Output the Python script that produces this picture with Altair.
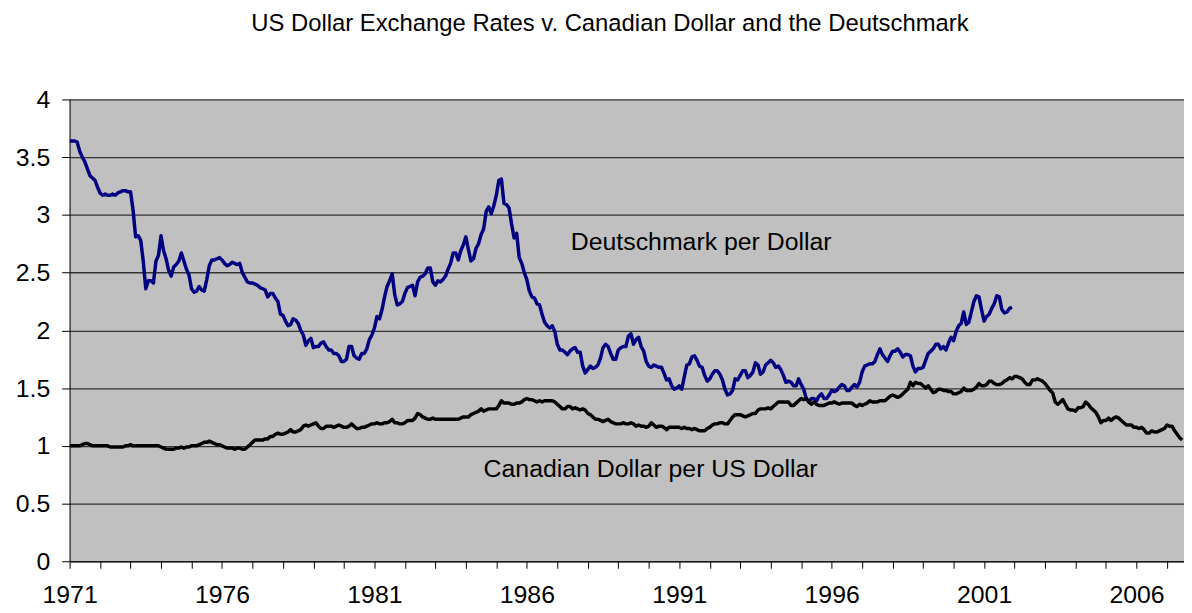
import altair as alt
import pandas as pd

START_YEAR = 1971

# Monthly values, January 1971 onward (one row per year)
dm_values = [
    3.64, 3.64, 3.64, 3.63, 3.55, 3.50, 3.46, 3.40, 3.34, 3.32, 3.30, 3.24,  # 1971
    3.19, 3.17, 3.18, 3.17, 3.17, 3.18, 3.17, 3.19, 3.20, 3.21, 3.21, 3.20,  # 1972
    3.20, 3.04, 2.81, 2.82, 2.78, 2.60, 2.36, 2.43, 2.43, 2.41, 2.60, 2.65,  # 1973
    2.82, 2.69, 2.62, 2.52, 2.47, 2.55, 2.57, 2.60, 2.67, 2.60, 2.53, 2.48,  # 1974
    2.36, 2.33, 2.34, 2.38, 2.35, 2.34, 2.44, 2.56, 2.61, 2.61, 2.62, 2.63,  # 1975
    2.61, 2.58, 2.56, 2.57, 2.59, 2.58, 2.57, 2.58, 2.50, 2.46, 2.42, 2.41,  # 1976
    2.41, 2.40, 2.39, 2.37, 2.36, 2.35, 2.29, 2.32, 2.32, 2.28, 2.25, 2.14,  # 1977
    2.13, 2.08, 2.04, 2.05, 2.10, 2.09, 2.06, 2.00, 1.96, 1.87, 1.91, 1.93,  # 1978
    1.85, 1.86, 1.86, 1.89, 1.90, 1.86, 1.83, 1.83, 1.80, 1.80, 1.78, 1.73,  # 1979
    1.73, 1.75, 1.86, 1.86, 1.78, 1.76, 1.75, 1.80, 1.80, 1.84, 1.92, 1.96,  # 1980
    2.02, 2.12, 2.10, 2.18, 2.29, 2.38, 2.43, 2.49, 2.31, 2.22, 2.23, 2.25,  # 1981
    2.32, 2.37, 2.38, 2.39, 2.30, 2.42, 2.46, 2.47, 2.49, 2.54, 2.54, 2.42,  # 1982
    2.39, 2.43, 2.42, 2.44, 2.47, 2.53, 2.58, 2.67, 2.67, 2.61, 2.69, 2.74,  # 1983
    2.81, 2.70, 2.60, 2.62, 2.71, 2.75, 2.83, 2.88, 3.03, 3.07, 3.01, 3.08,  # 1984
    3.17, 3.30, 3.31, 3.10, 3.09, 3.06, 2.92, 2.80, 2.84, 2.63, 2.58, 2.50,  # 1985
    2.44, 2.34, 2.29, 2.28, 2.23, 2.22, 2.14, 2.07, 2.04, 2.02, 2.04, 1.99,  # 1986
    1.88, 1.83, 1.83, 1.81, 1.79, 1.82, 1.84, 1.85, 1.81, 1.81, 1.69, 1.63,  # 1987
    1.66, 1.69, 1.67, 1.68, 1.70, 1.76, 1.85, 1.88, 1.86, 1.80, 1.75, 1.75,  # 1988
    1.83, 1.85, 1.86, 1.86, 1.95, 1.97, 1.88, 1.92, 1.94, 1.86, 1.82, 1.73,  # 1989
    1.69, 1.68, 1.70, 1.69, 1.68, 1.68, 1.63, 1.57, 1.58, 1.52, 1.49, 1.50,  # 1990
    1.52, 1.49, 1.60, 1.70, 1.71, 1.77, 1.78, 1.74, 1.69, 1.68, 1.61, 1.56,  # 1991
    1.58, 1.62, 1.65, 1.65, 1.62, 1.57, 1.49, 1.44, 1.45, 1.48, 1.58, 1.57,  # 1992
    1.61, 1.65, 1.65, 1.59, 1.61, 1.64, 1.72, 1.70, 1.62, 1.64, 1.70, 1.72,  # 1993
    1.74, 1.72, 1.68, 1.69, 1.66, 1.61, 1.55, 1.56, 1.55, 1.52, 1.52, 1.58,  # 1994
    1.53, 1.49, 1.41, 1.38, 1.41, 1.41, 1.39, 1.43, 1.45, 1.41, 1.41, 1.44,  # 1995
    1.48, 1.47, 1.48, 1.51, 1.53, 1.52, 1.48, 1.48, 1.51, 1.53, 1.51, 1.55,  # 1996
    1.64, 1.69, 1.70, 1.71, 1.71, 1.73, 1.79, 1.84, 1.79, 1.76, 1.73, 1.78,  # 1997
    1.82, 1.82, 1.84, 1.81, 1.77, 1.79, 1.79, 1.78, 1.69, 1.64, 1.67, 1.67,  # 1998
    1.68, 1.74, 1.80, 1.82, 1.84, 1.88, 1.88, 1.84, 1.86, 1.83, 1.89, 1.94,  # 1999
    1.91, 1.99, 2.04, 2.06, 2.16, 2.05, 2.07, 2.16, 2.25, 2.30, 2.29, 2.18,  # 2000
    2.08, 2.12, 2.14, 2.19, 2.23, 2.30, 2.29, 2.18, 2.15, 2.16, 2.19, 2.20,  # 2001
]

cad_values = [
    1.00, 1.00, 1.00, 1.00, 1.00, 1.01, 1.02, 1.02, 1.01, 1.00, 1.00, 1.00,  # 1971
    1.00, 1.00, 1.00, 1.00, 0.99, 0.99, 0.99, 0.99, 0.99, 0.99, 1.00, 1.00,  # 1972
    1.01, 1.00, 1.00, 1.00, 1.00, 1.00, 1.00, 1.00, 1.00, 1.00, 1.00, 1.00,  # 1973
    0.99, 0.98, 0.97, 0.97, 0.97, 0.97, 0.98, 0.98, 0.99, 0.98, 0.99, 0.99,  # 1974
    1.00, 1.00, 1.00, 1.01, 1.02, 1.03, 1.03, 1.04, 1.03, 1.02, 1.01, 1.01,  # 1975
    1.00, 0.99, 0.98, 0.98, 0.98, 0.97, 0.98, 0.98, 0.97, 0.97, 0.99, 1.01,  # 1976
    1.03, 1.05, 1.05, 1.05, 1.05, 1.06, 1.06, 1.08, 1.08, 1.10, 1.11, 1.10,  # 1977
    1.10, 1.11, 1.12, 1.14, 1.12, 1.12, 1.13, 1.14, 1.17, 1.18, 1.17, 1.18,  # 1978
    1.19, 1.20, 1.17, 1.15, 1.15, 1.17, 1.17, 1.17, 1.16, 1.17, 1.18, 1.17,  # 1979
    1.16, 1.16, 1.17, 1.19, 1.17, 1.15, 1.15, 1.16, 1.16, 1.17, 1.18, 1.19,  # 1980
    1.19, 1.20, 1.19, 1.19, 1.20, 1.20, 1.21, 1.23, 1.20, 1.20, 1.19, 1.19,  # 1981
    1.20, 1.22, 1.22, 1.22, 1.24, 1.28, 1.27, 1.25, 1.24, 1.23, 1.23, 1.24,  # 1982
    1.23, 1.23, 1.23, 1.23, 1.23, 1.23, 1.23, 1.23, 1.23, 1.23, 1.24, 1.25,  # 1983
    1.25, 1.25, 1.27, 1.28, 1.29, 1.30, 1.32, 1.30, 1.31, 1.32, 1.32, 1.32,  # 1984
    1.32, 1.35, 1.39, 1.37, 1.37, 1.37, 1.36, 1.36, 1.37, 1.37, 1.38, 1.40,  # 1985
    1.41, 1.40, 1.40, 1.39, 1.38, 1.39, 1.38, 1.39, 1.39, 1.39, 1.39, 1.38,  # 1986
    1.36, 1.34, 1.32, 1.32, 1.34, 1.34, 1.32, 1.33, 1.32, 1.31, 1.32, 1.31,  # 1987
    1.28, 1.27, 1.25, 1.23, 1.23, 1.22, 1.21, 1.22, 1.23, 1.21, 1.20, 1.19,  # 1988
    1.19, 1.19, 1.20, 1.19, 1.19, 1.20, 1.19, 1.17, 1.18, 1.17, 1.17, 1.16,  # 1989
    1.17, 1.20, 1.18, 1.16, 1.17, 1.17, 1.16, 1.14, 1.16, 1.16, 1.16, 1.16,  # 1990
    1.16, 1.15, 1.16, 1.15, 1.15, 1.14, 1.15, 1.14, 1.13, 1.13, 1.13, 1.15,  # 1991
    1.16, 1.18, 1.19, 1.19, 1.20, 1.20, 1.19, 1.19, 1.22, 1.25, 1.27, 1.27,  # 1992
    1.27, 1.26, 1.25, 1.26, 1.27, 1.28, 1.28, 1.31, 1.32, 1.32, 1.32, 1.33,  # 1993
    1.32, 1.34, 1.36, 1.38, 1.38, 1.38, 1.38, 1.38, 1.35, 1.35, 1.37, 1.39,  # 1994
    1.41, 1.40, 1.41, 1.38, 1.36, 1.38, 1.36, 1.35, 1.35, 1.35, 1.36, 1.37,  # 1995
    1.37, 1.38, 1.37, 1.36, 1.37, 1.37, 1.37, 1.37, 1.37, 1.35, 1.34, 1.36,  # 1996
    1.35, 1.36, 1.37, 1.39, 1.38, 1.38, 1.38, 1.39, 1.39, 1.39, 1.41, 1.43,  # 1997
    1.44, 1.43, 1.42, 1.43, 1.45, 1.47, 1.49, 1.55, 1.52, 1.55, 1.54, 1.54,  # 1998
    1.52, 1.50, 1.52, 1.49, 1.46, 1.47, 1.49, 1.49, 1.48, 1.48, 1.47, 1.47,  # 1999
    1.45, 1.45, 1.46, 1.47, 1.50, 1.48, 1.48, 1.48, 1.49, 1.51, 1.54, 1.52,  # 2000
    1.52, 1.53, 1.56, 1.56, 1.54, 1.53, 1.53, 1.54, 1.56, 1.57, 1.59, 1.58,  # 2001
    1.60, 1.60, 1.59, 1.58, 1.55, 1.53, 1.53, 1.57, 1.57, 1.58, 1.57, 1.56,  # 2002
    1.54, 1.51, 1.48, 1.46, 1.38, 1.36, 1.38, 1.40, 1.36, 1.32, 1.31, 1.31,  # 2003
    1.30, 1.33, 1.33, 1.34, 1.38, 1.36, 1.33, 1.31, 1.29, 1.25, 1.20, 1.22,  # 2004
    1.22, 1.24, 1.22, 1.24, 1.25, 1.24, 1.22, 1.20, 1.18, 1.18, 1.18, 1.16,  # 2005
    1.16, 1.15, 1.16, 1.14, 1.11, 1.11, 1.13, 1.12, 1.12, 1.13, 1.14, 1.15,  # 2006
    1.18, 1.17, 1.17, 1.13, 1.10, 1.07, 1.05,                                # 2007
]

series_names = ["Deutschmark per Dollar", "Canadian Dollar per US Dollar"]
series_colors = ["#000080", "#000000"]

title_text = ["US Dollar Exchange Rates v. Canadian Dollar and the Deutschmark"]
year_ticks = list(range(1971, 2008))
y_ticks = [0, 0.5, 1, 1.5, 2, 2.5, 3, 3.5, 4]

annotation_labels = ["Deutschmark per Dollar", "Canadian Dollar per US Dollar"]
annotation_years = [1991.72, 1990.06]
annotation_values = [2.70, 0.73]

rows = []
for name, values in zip(series_names, [dm_values, cad_values]):
    for i, v in enumerate(values):
        rows.append({"t": START_YEAR + i / 12.0, "v": v, "series": name, "order": i})
df = pd.DataFrame(rows)

ann_df = pd.DataFrame({"t": annotation_years, "v": annotation_values, "label": annotation_labels})
title_df = pd.DataFrame({"label": title_text})

x_end = START_YEAR + (len(cad_values) - 1 + 0.7) / 12.0
x_scale = alt.Scale(domain=[START_YEAR, x_end], nice=False, zero=False)
y_scale = alt.Scale(domain=[0, 4], nice=False)

x_axis = alt.Axis(
    values=year_ticks,
    labelExpr="(datum.value - 1971) % 5 == 0 ? format(datum.value, 'd') : ''",
    labelOverlap=False,
    labelFlush=False,
    grid=False,
    tickSize=7,
    tickColor="#000000",
    domainColor="#000000",
    labelPadding=14,
    labelFontSize=25,
    labelColor="#000000",
)
y_axis = alt.Axis(
    values=y_ticks,
    format="~g",
    labelOverlap=False,
    grid=True,
    gridColor="#333333",
    gridWidth=1.3,
    tickSize=8,
    tickColor="#000000",
    domainColor="#000000",
    labelPadding=12,
    labelFontSize=25,
    labelColor="#000000",
    labelFlush=False,
)

lines = alt.Chart(df).mark_line(strokeWidth=3.5, clip=True, strokeJoin="round").encode(
    x=alt.X("t:Q", scale=x_scale, title=None, axis=x_axis),
    y=alt.Y("v:Q", scale=y_scale, title=None, axis=y_axis),
    color=alt.Color("series:N", scale=alt.Scale(domain=series_names, range=series_colors), legend=None),
    detail="series:N",
    order="order:Q",
)

texts = alt.Chart(ann_df).mark_text(
    fontSize=25, align="center", baseline="alphabetic", color="#000000", font="Liberation Sans"
).encode(
    x=alt.X("t:Q", scale=x_scale, title=None, axis=x_axis),
    y=alt.Y("v:Q", scale=y_scale, title=None, axis=y_axis),
    text="label:N",
)

title = alt.Chart(title_df).mark_text(
    fontSize=24, align="center", baseline="alphabetic", color="#000000", font="Liberation Sans"
).encode(
    x=alt.value(544),
    y=alt.value(-69),
    text="label:N",
)

chart = alt.layer(lines, texts, title).properties(
    width=1122,
    height=465,
    autosize=alt.AutoSizeParams(type="none"),
    padding={"left": 62, "top": 90, "right": 0, "bottom": 48},
).configure(
    font="Liberation Sans",
).configure_view(
    fill="#C0C0C0",
    strokeWidth=0,
).configure_axis(
    labelFont="Liberation Sans",
)

chart.save("out.html", embed_options={"renderer": "svg", "actions": False})
